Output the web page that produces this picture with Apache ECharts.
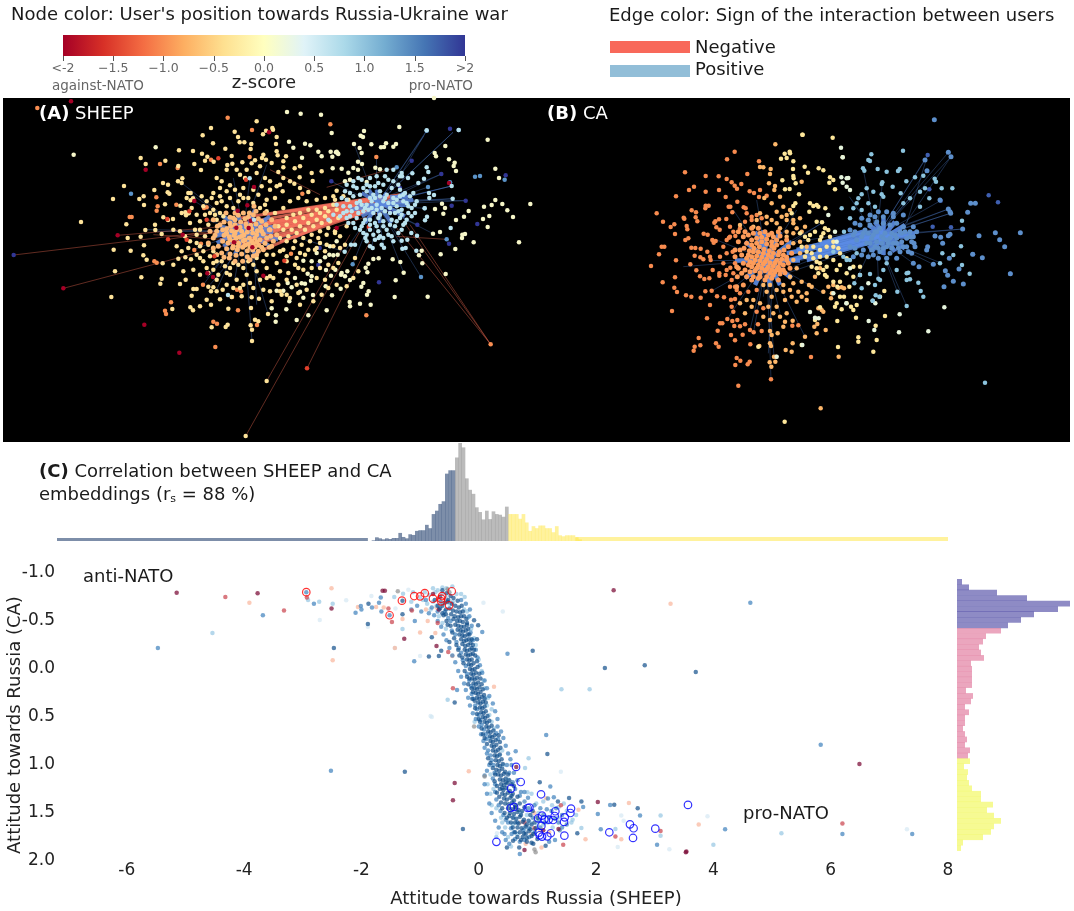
<!DOCTYPE html>
<html><head><meta charset="utf-8"><style>html,body{margin:0;padding:0;background:#fff}#c{width:1074px;height:911px}</style>
<script src="https://cdn.jsdelivr.net/npm/echarts@6/dist/echarts.min.js"></script></head><body><div id="c"></div>
<script>
// ---------- colour scale ----------
const colorbarColors=['#a50026','#d73027','#f46d43','#fdae61','#fee090','#ffffbf','#e0f3f8','#abd9e9','#74add1','#4575b4','#313695'];
// ---------- histogram over SHEEP attitude (heights, arbitrary count units) ----------
const topBinStart=-1.825, topBinWidth=0.0568;
const topBlueHeights=[2,11,8,5,8,6,9,9,24,12,8,20,18,30,32,32,48,38,80,90,110,118,200,210,210];
const topGreyHeights=[248,291,278,186,152,140,100,86,64,90,65,88,80,78,72,102];
const topYellowHeights=[80,80,80,66,80,55,30,44,38,46,46,38,38,26,44,17,14,17,17,17,11,5];
const topWideBlue=[-7.19,-1.89,9];
const topWideYellow=[1.65,8,12];
// ---------- histogram over CA attitude ----------
const rightBinStart=-0.9375, rightBinWidth=0.0566;
const rightBlue=[15,36,120,210,339,303,231,192,153];
const rightPink=[132,87,78,66,72,81,42,45,45,45,45,27,48,42,24,36,24,24,18,24,30,24,39,33];
const rightYellow=[39,21,33,30,36,45,72,72,108,90,111,132,111,102,78,18,12];
// ---------- panel A embedding (arbitrary units) ----------
const aPale=[861,42,902,47,963,50,995,105,867,131,880,149,915,137,931,142,906,179,955,161,965,175,1008,163,1013,166,1092,99,1082,113,1089,117,1198,87,1062,138,1079,150,1114,139,1143,148,1152,147,1158,136,1180,146,1188,138,992,161,997,176,1010,161,1015,168,998,211,1025,212,1085,165,1074,191,1086,198,1074,215,1060,210,1045,224,1035,250,1050,245,1100,252,1126,209,1140,214,1336,144,1304,165,1308,175,1347,184,1364,194,1361,204,1368,219,1463,125,1486,212,1497,240,1591,318,1539,357,1557,433,1421,433,1322,469,1320,402,1299,407,1335,330,1326,317,1305,333,1330,347,1368,366,1392,356,1406,339,1452,326,1475,321,1486,306,1507,318,1522,337,1468,354,1449,363,1463,387,1387,410,1395,408,1386,420,1366,453,1265,458,1257,472,1267,496,1211,524,1201,492,1178,484,1136,481,1120,483,1105,497,1097,509,1102,523,1090,555,1084,566,1187,547,1184,597,1283,596,1337,528,1049,612,1050,625,1080,617,1112,620,1106,580,1101,590,996,592,1022,572,977,565,980,637,925,652,890,666,827,671,828,652,868,610,815,631,859,634,939,591,910,599,900,581,915,557,905,556,933,548,923,527,935,535,885,540,863,555,875,568,850,578,830,578,1025,525,1035,535,1042,520,1050,546,1023,530,1006,515,993,533,978,516,960,490,950,465,988,470,1000,472,1013,470,975,478,1010,430,990,445,935,490,910,488,221,170,467,148,1302,0];
const aYellow=[372,264,339,303,243,372,422,180,437,198,496,188,537,157,579,159,608,112,633,90,639,136,606,167,622,176,676,152,695,174,704,101,714,117,719,133,733,133,754,138,752,153,770,70,789,109,798,98,615,188,641,191,603,216,583,198,535,204,682,201,697,197,727,193,755,196,765,187,790,170,798,185,786,180,547,241,534,250,545,255,489,255,504,260,463,276,503,283,508,287,431,295,418,303,432,321,495,319,565,285,572,285,579,301,572,307,541,323,556,343,566,346,558,352,490,358,504,366,519,363,465,380,379,379,436,396,466,396,485,408,422,416,383,420,341,455,392,458,432,442,430,472,440,485,488,496,520,500,535,482,556,478,573,484,590,470,345,520,424,538,485,542,481,557,540,558,557,545,550,520,580,515,334,597,575,593,590,573,580,573,625,566,640,568,633,580,650,580,668,575,695,597,725,595,755,598,620,605,633,620,660,604,571,628,579,637,600,625,517,633,685,632,753,630,777,602,804,648,765,665,775,670,752,682,756,695,635,688,683,680,677,687,756,729,800,849,737,1014,
817,90,819,95,830,117,828,138,830,160,833,172,858,175,884,211,850,208,835,222,899,238,938,249,883,257,850,240,830,265,848,280,925,282,1010,278,650,240,665,250,690,262,720,230,735,240,770,225,795,240,810,250,640,285,660,295,690,300,720,290,745,300,775,290,800,305,825,300,610,325,640,335,660,345,800,340,825,345,850,330,870,310,895,300,920,310,950,305,975,300,1000,295,600,370,625,380,645,350,835,385,860,380,885,370,910,360,935,350,960,345,985,340,1010,335,590,410,615,415,640,460,840,420,865,415,890,405,915,395,940,385,965,375,990,370,1015,360,600,445,625,440,650,490,675,505,700,495,730,510,760,500,790,490,820,470,850,455,880,450,905,440,930,430,955,420,980,410,1005,405,610,490,640,515,680,525,710,545,740,530,770,520,800,510,830,495,860,490,890,480,915,470,650,545,680,560,720,570,750,555,780,545,810,535,840,520,865,525,895,510,835,560,860,545,890,560,810,580,1005,400,1040,385,1035,440,1020,450,980,440,960,435,945,455,815,610,
560,300,575,330,590,350,605,295,620,310,635,300,650,315,665,310,680,325,700,330,715,310,730,300,760,315,780,330,795,320,545,345,570,375,585,395,600,395,615,350,630,345,650,365,670,355,520,395,540,400,555,415,570,430,590,435,610,460,630,475,650,470,530,445,545,460,565,450,600,480,620,510,640,495,665,490,690,510,715,500,745,490,770,480,800,470,600,530,625,525,655,530,690,530,700,570,730,560,760,570,790,575,820,540,845,590,870,600,895,585,920,575,950,540,975,545,1000,510,660,270,680,280,705,275,730,270,760,275,785,265,810,275,840,260,870,250,900,270,680,215,710,215,740,215,780,205,815,195,850,190,900,205,935,225,965,220,1005,305,1000,320,1030,295,1045,305,975,330,950,335,925,335,900,345,880,350,860,360,850,395,875,395,900,385,925,375,950,365,975,355,860,430,885,430,910,420,935,410,960,400,985,390,900,465,925,455,950,450,975,460,1000,445,1020,415,840,460,860,475,885,500,910,515,935,510,960,510,985,500,1015,495,800,540,840,580,860,590,900,620,940,610,965,590,985,570,1010,560,1040,565,1060,540,1075,520,1065,480];
const aPeach=[700,360,715,352,730,345,745,358,760,350,775,362,690,375,705,380,722,372,738,378,752,382,768,378,782,388,680,392,695,398,710,395,725,400,742,402,758,405,772,398,790,408,672,412,688,416,702,412,718,418,732,410,748,420,765,420,780,425,800,420,668,430,684,435,700,430,716,436,730,428,745,438,760,438,776,442,795,436,680,452,698,450,712,455,728,448,742,458,758,456,775,460,690,468,708,472,725,468,742,476,760,474,660,380,650,400,640,420,655,445,665,465,815,365,825,385,815,445,810,395,640,365,678,345,795,345,762,325,812,415,830,410,
705,345,690,358,672,372,652,385,645,412,630,400,625,435,640,450,668,395,678,408,692,385,705,365,735,362,748,345,768,340,785,370,798,380,808,395,820,430,808,448,790,455,770,470,750,485,728,490,705,490,688,480,672,478,650,470,690,425,708,420,725,415,740,388,755,392,770,410,785,400,705,405,720,388,735,425,755,430,770,432,785,448,700,445,715,445,735,442,750,448,765,448,680,405];
const aOrange=[112,30,683,59,756,96,749,177,633,185,480,198,533,210,495,638,498,648,513,613,389,357,395,357,469,298,473,325,470,338,529,320,463,490,470,494,609,560,696,597,711,575,723,580,771,681,714,637,651,677,640,671,646,747,603,437,620,328,612,330,583,456,1099,652,991,79,1472,739,1129,177,873,467,907,287];
const aRed=[655,181,568,340,620,365,502,363,504,424,560,425,738,245,643,475,921,811,1106,387,853,488];
const aDarkRed=[213,10,437,215,353,412,190,571,433,680,538,764,548,410,583,309,622,526,639,537,790,533,762,267,807,103,713,338,742,322,752,368,746,390,709,389,702,433,757,448,1010,390,1347,255];
const aPaleBlue=[684,591,749,241,762,365,1280,97,1376,96,1280,208,1237,226,1224,240,1206,235,1200,235,1285,222,1272,242,1255,255,1287,285,1302,291,1288,300,1274,331,1281,356,1275,367,1358,302,1355,264,1352,390,1251,413,1234,405,1205,428,1222,425,1217,450,1207,452,1249,458,1065,440,1053,440,1034,461,1096,420,1110,445,1118,450,1136,420,1152,449,
1130,320,1110,300,1150,310,1170,330,1090,340,1120,345,1140,350,1100,320,1160,290,1180,300,1080,310,1070,330,1050,325,1190,325,1210,310,1205,335,1120,290,1140,280,1100,280,1080,290,1060,295,1040,340,1050,355,1070,360,1095,365,1125,375,1150,370,1175,365,1200,360,1220,365,1225,345,1235,330,1245,320,1230,295,1215,285,1200,275,1175,270,1150,260,1125,265,1100,260,1070,270,1050,285,1040,305,1030,325,1060,375,1085,385,1110,395,1135,400,1160,395,1185,385,1210,380,1060,250,1085,245,1155,235,1180,250,1130,235,1110,240,1080,395,1100,410,1125,425,1150,420,1175,415,1195,405,
1115,310,1125,300,1140,295,1155,300,1165,315,1180,315,1190,305,1200,295,1210,290,1220,315,1225,325,1095,330,1105,335,1115,330,1130,335,1145,330,1155,340,1170,345,1185,345,1195,340,1205,350,1075,345,1085,320,1070,315,1055,340,1040,360,1030,345,1020,355,1045,375,1065,390,1090,375,1110,365,1135,360,1150,385,1170,380,1190,370,1205,395,1130,385,1110,380,1090,405,1120,410,1140,415,1165,410,1180,430,1145,440,1100,430,1215,375,1235,355,1245,345,1250,310,1240,285,1195,260,1165,245,1135,255,1110,265,1090,270,1060,265,1035,280,1025,300,1010,320,1000,350,985,365,1040,260,1180,215,1205,225,1160,215,1075,240];
const aMidBlue=[393,287,1280,98,1376,96,1274,331,1340,424,1263,537,1058,499,1440,234,1425,236,1514,245,1350,253,1284,267,1190,208];
const aDarkBlue=[41,471,1350,92,1324,228,1397,308,1517,232,1432,378,1347,437,1355,323,1252,380,1235,188,994,250,959,450,955,501,1137,553,1170,340,1200,270];
const aNegEdges=[1472,739,1210,370,1472,739,1230,380,1472,739,1190,390,921,811,1110,430,737,1014,1080,400,800,849,1050,410,41,471,720,390,190,571,760,420,353,412,740,380,504,424,700,395,548,410,760,400,1340,424,1190,415,1190,208,980,268,810,215,960,290,460,410,750,430,620,365,800,390,1000,390,1150,340];
const aBandEdges=[700,380,1100,310,720,360,1120,300,700,410,1080,330,730,390,1140,320,740,420,1160,310,760,380,1180,305,780,430,1100,340,800,400,1130,330,820,380,1150,300,760,440,1090,345,720,440,1060,345,680,440,1050,340,800,350,1190,295,840,430,1120,335,870,340,1200,290,880,420,1060,340,690,410,1210,310,900,370,1170,320,790,455,1040,350,670,395,1110,320,660,425,1130,325,650,410,1090,315];
const aPosEdges=[1130,320,1359,103,1130,320,1272,113,1130,320,1063,140,1130,320,1129,177,1130,320,1324,228,1130,320,1350,265,1130,320,1397,308,1130,320,1263,537,1130,320,1299,407,1130,320,1251,380,1130,320,1211,524,1130,320,1116,450,1130,320,1058,499,1130,320,1034,461,1130,320,1235,188,1130,320,1280,98,1130,320,994,250,1130,320,1152,449,1130,320,1205,428,1130,320,1285,267,1130,320,1355,264,1130,320,1358,302,1130,320,1274,331,1150,300,1324,228,1160,310,1350,265,1170,305,1397,308,1180,310,1358,302,1160,290,1359,103,1170,285,1280,98,
730,400,545,255,730,400,583,309,730,400,756,729,730,400,805,650,730,400,610,560,730,400,620,540,730,400,650,575,730,400,705,540,730,400,775,530,730,400,735,500,730,400,690,295,730,400,700,240,730,400,750,240,730,400,800,200,730,400,570,285,730,400,620,366,730,400,580,455,730,400,470,400,730,400,440,395,700,430,660,510,760,420,770,620,740,430,630,560,830,400,1034,461,810,430,1080,330,850,420,1100,340];
const aCoreEdges=[650,400,820,400,670,355,810,445,670,445,810,355,705,335,765,470,765,335,705,470,640,415,830,385,660,385,835,425,650,435,800,365,1070,320,1230,320,1085,285,1215,355,1085,355,1215,285,1130,275,1140,375,1105,275,1175,375,1160,285,1095,375,1050,335,1240,305,1170,295,1225,295];
// ---------- panel B embedding (arbitrary units) ----------
const bDeep=[93,498,110,340,129,365,152,381,163,373,168,289,195,217,207,270,222,260,257,228,257,275,321,178,344,155,417,184,156,633,128,547,117,463,125,440,133,440,168,481,165,532,163,563,171,576,198,586,214,590,242,593,270,615,261,655,221,752,224,740,241,736,236,714,288,730,296,740,293,692,300,670,355,857,346,795,350,774,361,782,389,785,383,793,191,353,193,356,200,378,202,388,165,402,196,420,205,415,215,331,228,337,227,352,232,364,251,401,263,404,214,443,226,444,242,446,224,467,211,493,229,511,241,472,250,478,253,537,268,535,240,529,256,574,275,572,291,589,312,592,333,599,345,597,335,620,340,635,322,657,337,663,352,660,307,670,343,678,360,679,375,673,390,690,401,697,425,693,414,673,430,625,410,635,333,705,345,721,368,704,391,733,257,317,266,317,256,325,297,270,317,291,320,237,296,229,335,247,344,257,351,266,364,252,382,222,389,274,402,279,417,291,352,305,326,320,331,320,371,322,377,325,337,337,319,357,297,358,286,364,283,368,289,382,299,389,277,420,281,428,287,423,270,470,272,480,262,455,278,510,298,520,298,527,317,525,331,503,335,540,345,560,350,570,420,270,346,408,330,410,327,413,338,455,345,490,440,287,517,677,535,676,573,771,453,838,
330,380,340,395,320,420,310,440,320,460,300,470,310,490,320,510,340,520,330,560,360,580,385,575,410,570,360,385,375,365,395,360,380,340,395,350,410,345,425,355];
const bCore=[380,430,395,420,410,415,425,412,440,418,455,425,470,420,485,428,372,445,388,452,402,445,418,440,432,448,448,452,462,445,478,455,492,450,365,465,380,475,395,470,410,468,425,472,440,478,455,472,470,480,485,478,500,472,370,490,385,495,400,490,415,495,430,492,445,500,460,498,475,502,490,495,505,490,375,510,390,515,405,512,420,518,435,512,450,520,465,515,480,522,495,518,355,395,375,395,395,385,415,385,435,395,455,400,475,395,395,540,415,535,435,540,455,535,475,540,350,560,370,555,345,450,350,500,352,530,
370,410,385,405,400,400,420,400,445,405,460,410,480,408,500,420,505,440,515,460,500,480,510,505,480,510,460,525,440,530,420,530,400,530,380,530,365,520,355,505,345,470,360,450,355,425,395,435,410,430,425,425,440,432,455,438,470,435,385,465,400,455,415,455,430,460,445,465,460,460,475,465,490,465,390,485,405,480,420,482,435,485,450,488,465,488,480,490,395,500,410,505,425,505,440,508,455,510,470,510,490,510];
const bLight=[466,133,430,202,420,201,452,207,450,222,447,250,465,258,463,270,433,294,360,375,410,360,440,350,470,335,490,320,510,330,420,340,455,310,480,290,400,380,500,360,520,370,540,355,555,380,545,395,520,400,500,410,520,430,540,425,560,440,540,460,520,480,530,505,510,530,490,555,520,550,545,545,535,575,515,590,495,600,470,620,480,650,500,640,455,590,440,575,495,665,518,662,490,680,450,693,455,705,473,700,453,738,555,710,468,770,462,770,449,787,466,785,454,800,497,750,515,755,518,730,450,730,418,738,595,625,605,630,592,672,617,690,590,700,583,680,610,635,560,600,545,590,530,605,560,580,575,560,585,530,600,505,625,560,610,575,640,555,655,563,665,562,672,565,636,580,633,595,656,770,567,555,545,245,602,925,
440,370,455,360,470,370,485,350,500,345,520,360,480,385,500,395,530,385,430,555,450,555,470,570,490,575,510,570,400,600,420,610,445,620,460,640,380,600,395,620,360,610,375,640,430,650,450,660];
const bYellow=[547,104,638,113,494,161,509,155,510,160,483,176,500,174,520,184,554,200,596,205,610,211,519,207,564,218,520,228,521,235,487,241,495,268,509,267,527,250,537,283,526,310,520,318,515,340,580,318,590,315,570,310,595,320,616,325,568,335,606,367,590,365,615,385,625,390,610,400,630,410,600,450,590,485,575,460,555,470,600,490,620,500,640,480,660,460,595,520,615,525,620,530,640,545,660,545,652,560,672,590,650,610,665,628,693,620,700,630,708,653,652,663,710,615,722,592,767,677,795,648,760,755,715,712,715,725,494,965,654,741,415,740,545,735,548,104,645,268,630,232,628,248,640,240,585,660,600,622,645,620,668,172,604,410,640,440,620,470,580,440,565,420,660,495,680,475,700,500,720,500,650,510,680,520,700,530,705,590,688,560,660,590,770,720,793,573,680,610,
540,400,555,410,570,405,585,395,600,420,545,440,560,455,580,475,600,470,620,440,640,425,655,445,590,505,575,500,610,510];
const bPale=[663,143,668,172,664,232,668,248,680,235,685,234,680,260,690,270,547,735,470,770,585,653,596,655,570,636,746,663,763,690,837,697,925,694,973,622,839,643,679,610,640,580,625,345,645,395,650,425,690,505,720,525,745,550,780,590,766,610,758,602];
const bLightBlue=[754,163,849,152,745,180,750,183,729,205,733,212,773,207,800,215,839,207,834,213,859,244,885,232,910,227,944,236,948,245,965,265,997,265,787,247,785,252,740,265,725,283,760,275,785,283,715,295,710,310,700,325,725,330,745,310,765,320,790,290,818,260,842,280,850,310,870,295,900,275,915,265,928,295,900,320,1026,362,967,460,1023,439,832,575,860,618,775,536,780,540,765,555,725,565,778,590,767,586,758,602,895,548,902,573,910,590,860,520,865,518,870,538,860,540,830,510,790,510,800,490,750,522,720,525,703,550,680,480,690,480,710,460,670,470,640,455,665,325,690,355,672,395,1095,848,1049,521,1026,495,1000,465,960,490];
const bMid=[943,59,985,157,993,170,915,180,921,212,960,300,985,327,990,335,992,340,1028,387,945,408,962,412,968,430,990,403,985,407,1043,337,1052,310,1066,310,1077,407,988,475,1017,507,976,512,983,526,1000,544,1030,552,972,560,1058,463,1087,473,1126,398,1139,419,1154,440,1171,521,1201,398,940,493,897,500,923,440,920,450,880,490,882,430,875,460,765,395,780,385,795,400,810,415,825,405,840,395,755,415,770,425,785,430,800,440,815,445,830,430,845,425,860,415,740,430,725,410,735,390,750,375,770,365,790,370,810,375,830,370,850,380,870,395,880,410,860,440,840,455,810,460,780,455,755,450,730,450,710,420,705,395,720,375,745,360,765,350,790,350,820,350,850,345,
770,395,785,410,800,420,760,405,745,400,730,400,750,430,765,440,790,415,815,400,830,415,845,400,855,395,870,410,875,425,885,440,865,455,850,440,835,445,820,430,805,430,790,445,775,445,760,465,745,470,725,465,705,445,690,440,700,470,775,475,800,475,830,475,820,340,800,335,775,335,750,345,725,355,705,370,690,390,700,405,880,380,890,395];
const bDark=[923,165,1106,286,1134,307,962,302,928,268,945,408,1059,463,1171,521,993,382,938,380];
const bPosEdges=[770,410,923,165,770,410,915,180,770,410,993,170,770,410,985,157,770,410,729,205,770,410,688,290,770,410,962,302,770,410,985,327,770,410,992,340,770,410,1028,387,770,410,940,493,770,410,860,618,770,410,832,575,770,410,703,550,770,410,775,540,770,410,880,490,770,410,960,488,770,410,787,250,770,410,870,295,770,410,921,212,840,380,985,327,840,390,990,340,850,400,1028,387,850,380,993,170,860,370,923,165,
440,480,453,838,440,480,462,770,440,480,555,710,440,480,530,330,440,480,410,300,440,480,340,330,440,480,290,420,440,480,275,480,440,480,345,560,440,480,322,657,440,480,390,690,440,480,430,590,440,480,610,580,440,480,610,365,440,480,190,500,460,500,445,760,440,480,280,570,440,480,480,640,440,480,400,700,500,430,605,370,470,470,770,400,470,500,790,420,440,440,750,390,500,520,730,440,520,470,800,410,560,470,720,410,520,500,700,430,540,440,740,400];
const bCoreEdges=[345,480,540,480,375,425,515,535,375,535,515,425,430,390,450,560,405,395,480,555,480,395,405,555,500,460,790,405,510,480,770,420,530,450,760,395,560,480,740,430,600,430,730,395,590,455,720,420,725,410,875,410,745,375,855,445,745,445,855,375,790,355,790,465,765,365,825,455,825,365,755,455,705,420,885,400];
// ---------- main scatter: attitude (SHEEP, CA) ----------
const mDark=[-.62,-.82,-.55,-.79,-.48,-.76,-.43,-.74,-.36,-.71,-.52,-.72,-.58,-.69,-.46,-.68,-.4,-.66,-.34,-.64,-.29,-.66,-.5,-.63,-.44,-.61,-.38,-.6,-.32,-.59,-.27,-.6,-.47,-.57,-.41,-.55,-.35,-.54,-.3,-.55,-.25,-.55,-.43,-.52,-.37,-.5,-.32,-.5,-.27,-.49,-.21,-.52,-.4,-.46,-.35,-.45,-.3,-.44,-.25,-.44,-.2,-.46,-.36,-.41,-.31,-.4,-.27,-.39,-.22,-.4,-.33,-.36,-.28,-.35,-.24,-.34,-.19,-.36,-.3,-.31,-.25,-.29,-.21,-.3,-.17,-.31,-.28,-.26,-.23,-.24,-.18,-.25,-.14,-.27,-.24,-.2,-.2,-.19,-.15,-.2,-.12,-.22,-.22,-.15,-.18,-.14,-.14,-.15,-.1,-.16,-.2,-.1,-.16,-.09,-.12,-.1,-.17,-.05,-.13,-.04,-.09,-.06,-.15,0,-.11,.01,-.07,0,-.13,.05,-.09,.06,-.05,.04,-.11,.1,-.07,.11,-.03,.09,-.09,.15,-.05,.16,-.01,.14,-.07,.2,-.03,.21,.01,.19,-.05,.25,-.01,.26,.03,.24,-.03,.3,.01,.31,.05,.29,-.01,.35,.03,.36,.07,.34,.02,.4,.06,.41,.1,.39,.04,.45,.08,.46,.12,.44,.07,.5,.11,.51,.15,.49,.1,.55,.14,.56,.18,.54,.13,.6,.17,.61,.22,.59,.16,.65,.2,.66,.25,.64,.19,.7,.23,.71,.27,.69,.2,.75,.24,.76,.29,.74,.22,.8,.26,.81,.3,.79,.24,.85,.29,.86,.33,.84,.27,.9,.31,.91,.36,.89,.29,.95,.34,.96,.39,.94,.32,1,.36,1.01,.41,.99,.3,1.05,.35,1.06,.4,1.04,.45,1.07,.33,1.1,.38,1.11,.43,1.09,.36,1.15,.41,1.16,.46,1.14,.38,1.2,.43,1.21,.49,1.19,.36,1.25,.42,1.26,.47,1.24,.53,1.27,.4,1.3,.45,1.31,.5,1.29,.56,1.32,.43,1.35,.48,1.36,.54,1.34,.6,1.37,.45,1.4,.51,1.41,.57,1.39,.63,1.42,.5,1.45,.56,1.46,.62,1.44,.68,1.47,.53,1.5,.6,1.51,.66,1.49,.72,1.52,.58,1.55,.64,1.56,.7,1.54,.77,1.57,.62,1.6,.68,1.61,.75,1.59,.82,1.62,.66,1.65,.73,1.66,.8,1.64,.88,1.67,.7,1.7,.77,1.71,.85,1.69,.93,1.72,.75,1.75,.82,1.76,.9,1.74,1,1.77,.82,1.8,.9,1.81,.48,1.86,
-1.88,-.68,-1.89,-.47,-2.47,-.22,-1.3,-.71,-1.3,-.57,-.85,-.13,-.68,-.135,-.64,-.19,-.8,-.33,-.5,-.28,-.08,-.507,-.01,-.455,-.03,-.31,-.41,.35,1.17,.885,-.27,1.666,1.04,1.18,1.35,1.38,1.54,1.343,1.75,1.38,2.31,1.413,2.71,1.45,1.68,1.711,.69,1.86,1.14,1.84,.93,1.82,.585,1.79,2.83,-.04,3.7,.03,2.15,-.01,.92,-.19,-1.26,1.07,-.53,-.7,-.6,-.56,-.55,-.5,-.56,-.62,-.62,-.66,-.66,-.75,
-.75,-.72,-.7,-.66,-.66,-.63,-.62,-.58,-.56,-.57,-.53,-.46,-.48,-.45,-.45,-.38,-.42,-.32,-.38,-.25,-.35,-.2,-.33,-.14,-.28,-.12,-.26,-.06,-.24,.02,-.2,.08,-.16,.1,-.18,.16,-.12,.2,-.1,.24,-.11,.31,-.07,.33,-.06,.41,-.03,.47,0,.52,.02,.55,.05,.62,.07,.68,.1,.72,.14,.78,.34,.69,.36,.76,.37,.82,.16,.93,.2,.98,.24,1.03,.28,1.1,.27,1.17,.31,1.22,.31,1.29,.35,1.33,.38,1.39,.4,1.45,.44,1.5,.48,1.55,.52,1.53,.55,1.6,.58,1.65,.62,1.7,.66,1.75,.72,1.78,.8,1.72,.85,1.58,.9,1.62,.95,1.6,1,1.55,.97,1.66,.92,1.48,.88,1.52,.7,1.4,.74,1.48,.78,1.44,.66,1.33,.6,1.22,.58,1.3,.52,1.16,.5,1.1,.56,1.2,.46,1.18,.4,1.24,-.2,-.48,-.18,-.42,-.16,-.36,-.12,-.31,-.1,-.25,-.08,-.2,-.06,-.14,-.03,-.08,-.02,-.02,.01,.05,.03,.1,.05,.16,.07,.21,.09,.27,.1,.31,.12,.35];
const mMid=[-3.68,-.56,-5.47,-.22,-2.94,-.8,-2.81,-.68,-2.1,-.587,-2.01,-.656,-2,-.62,-1.82,-.64,-1.7,-.69,-1.67,-.746,-1.66,-.6,-1.52,-.56,-1.09,-.5,-1.1,-.08,-.37,.22,.06,-.385,.49,-.16,1.15,.687,.1,1.11,.63,.857,1.22,1.225,1.28,1.336,1.78,1.437,2.03,1.51,2.24,1.416,2.75,1.527,4.2,1.67,3.04,1.83,2.08,1.67,.7,1.927,.44,1.72,.52,1.82,4.63,-.69,5.83,.79,-2.52,1.06,6.2,1.72,7.39,1.72,
-.7,-.6,-.65,-.7,-.58,-.6,-.52,-.53,-.48,-.5,-.46,-.4,-.4,-.36,-.38,-.28,-.34,-.22,-.3,-.17,-.27,-.09,-.22,-.03,-.2,.05,-.16,.12,-.13,.18,-.12,.26,-.09,.31,-.06,.38,-.03,.42,0,.48,.03,.53,.05,.58,.09,.63,.12,.68,.13,.73,.32,.6,.3,.67,.33,.73,.16,.85,.2,.9,.22,.95,.25,1,.27,1.08,.24,1.14,.28,1.2,.28,1.28,.3,1.36,.34,1.42,.37,1.48,.42,1.52,.46,1.57,.5,1.6,.55,1.66,.6,1.7,.62,1.77,.7,1.8,.78,1.78,.86,1.75,.96,1.7,1.05,1.65,1.12,1.6,1.2,1.55,.85,1.45,.95,1.42,1.05,1.45,.78,1.38,.7,1.32,.62,1.25,.58,1.18,.52,1.08,.48,1,.78,1.28,1.18,1.35,1.32,1.45,1.42,1.52,1.5,1.62,1.38,1.68,1.3,1.78,1.2,1.8,
-1.15,-.62,-1.05,-.66,-.98,-.6,-.9,-.72,-.85,-.58,-.8,-.64,-.76,-.56,-.7,-.5,-.64,-.44,-.6,-.36,-.55,-.3,-.5,-.22,-.45,-.14,-.4,-.07,-.35,.02,-.3,.08,-.25,.15,-.22,.22,-.18,.3,-.15,.38,-.1,.46,-.05,.52,0,.6,.04,.68,.08,.75,.1,.82,.14,.88,.18,1,.14,1.06,.1,1.2,.14,1.3,.18,1.4,.22,1.5,.28,1.58,.34,1.65,.4,1.7,.46,1.78,.56,1.72,.66,1.6,.76,1.68,.86,1.66,.92,1.55,1.02,1.58,1.1,1.52,1.16,1.46,1.24,1.48,1.3,1.56,1.36,1.6,1.42,1.65,.84,1.34,.72,1.28,.66,1.16,.6,1.08,.56,1,.54,.94,.5,.88,.46,.8,.42,.72,.38,.65,.32,.52,.28,.44,.24,.36,.18,.28,.14,.2,.1,.12,.06,.04,.02,-.04,-.02,-.12,-.05,-.2,-.1,-.3,-.14,-.38,-.12,-.45,-.16,-.55,-.15,-.62,-.22,-.68,-.3,-.72];
const mLight=[-4.54,-.375,-2.91,-.72,-2.72,-.7,-2.49,-.68,-1.44,-.75,-1.29,-.785,-1.3,-.417,-.74,-.8,-.45,-.86,-.55,-.84,-.3,-.78,-.95,-.72,-.88,-.68,-.82,-.62,-.78,-.7,-.72,-.66,-.68,-.55,-.62,-.48,-.56,-.42,-.53,.32,.85,.93,.79,1.03,.83,1.285,1.45,1.4,1.6,1.57,1.75,1.656,2.33,1.666,3.1,1.527,3.1,1.736,1.89,.21,1.41,.21,5.16,1.71,4,1.83,.22,.42,.16,.3,-.07,.55,.18,.72,.4,.85,.15,1.2,.2,1.3,.22,1.42,.9,1.3,.98,1.4,1.1,1.38,1.25,1.42,1.35,1.55,.4,1.6,.5,1.75,.6,1.55,.72,1.5,.88,1.6,1,1.62,.3,1.75,.55,1.85,-1.0,-.75,-1.12,-.8,-1.15,-.7,
-.92,-.8,-.85,-.77,-.78,-.84,-.7,-.82,-.62,-.85,-.62,-.78,-.56,-.74,-.5,-.68,-.44,-.7,-.38,-.78,-.24,-.75,-.25,-.62,-.2,-.6,-.18,-.54,-.13,-.42,-.08,-.32,-.05,-.25,0,-.1,.05,.02,.08,.12,.1,.2,.12,.3,.14,.38,.18,.48,.22,.55,.26,.62,.35,.9,.42,1,.5,1.15,.2,1.1,.25,1.25,.3,1.45,.38,1.55,.45,1.65,.58,1.62,.66,1.72,.78,1.66,.82,1.52,.92,1.7,1.02,1.5,1.1,1.62,1.18,1.6,1.26,1.65,1.36,1.44,1.5,1.48,1.58,1.6,1.66,1.52];
const mPale=[-2.71,-.51,-2.26,-.715,-1.83,-.76,-1.42,-.63,-1.2,-.826,-1.0,-.135,-.8,.5,-.82,.49,-1.89,-.44,.41,-.6,.08,-.69,1.4,1.07,2.43,1.527,2.47,1.58,3.9,1.534,3.25,1.878,2.37,1.854,7.3,1.67,.31,1.71,-1.43,-.22];
const mSalmon=[-3.91,-.69,-2.51,-.84,-2.49,-.09,-2.06,-.646,-1.75,-.645,-1.62,-.64,-1.3,-.52,-1.43,-.22,-1,-.38,-.87,-.5,-.74,-.375,-.45,-.135,.26,.185,-.17,1.065,1.15,1.347,1.7,1.465,2.56,1.395,3.75,1.62,2.43,1.774,1.82,1.774,1.07,1.86,3.27,-.68,.7,1.6,.9,1.72,.95,1.5,1.05,1.68,1.2,1.7,.8,1.82,-.9,-.62,-.72,-.64];
const mRed=[-4.32,-.75,-3.32,-.61,-2.93,-.745,-1.54,-.63,-1.14,-.61,-1.48,-.49,-.7,-.48,-.52,-.177,-.44,.2,1.4,1.42,3.1,1.687,2.33,1.746,1.44,1.83,6.2,1.61,.95,1.66,.78,1.6];
const mDarkRed=[-5.15,-.795,-3.77,-.79,-2.51,-.63,-1.64,-.816,-1.6,-.816,-1.27,-.316,-.72,-.24,-.41,1.187,-.44,1.368,2.03,1.385,3.53,1.91,1.36,1.666,.78,1.885,2.3,-.82,6.49,.99,3.54,1.9,.64,1.02,-.78,-.78,-.68,-.62,1.1,1.68];
const mGrey=[-1.38,-.81,-.53,-.83,-.5,-.8,.97,1.91,.95,1.88,-.08,.6,.1,1.12,.62,1.45];
const mRedCircles=[-2.94,-.8,-1.52,-.56,-1.31,-.712,-1.1,-.76,-1,-.757,-.92,-.79,-.78,-.733,-.625,-.76,-.64,-.733,-.64,-.705,-.505,-.663,-.46,-.81];
const mBlueCircles=[.636,1.02,.716,1.177,.551,1.246,1.062,1.305,.546,1.448,.602,1.437,.835,1.448,.864,1.444,1.573,1.454,1.306,1.482,1.562,1.5,1.295,1.531,1.079,1.527,1.011,1.555,1.119,1.566,1.193,1.569,1.267,1.573,1.466,1.545,1.454,1.593,1.068,1.635,1.022,1.704,1.04,1.732,1.079,1.746,1.17,1.743,1.227,1.711,1.46,1.736,.301,1.8,2.226,1.701,2.578,1.618,2.64,1.659,2.63,1.76,3.01,1.663,3.567,1.416];
// ---------- text ----------
const colorbarTicks=[-2,-1.5,-1,-.5,0,.5,1,1.5,2];
const xTicks=[-6,-4,-2,0,2,4,6,8];

const FONT='DejaVu Sans';
const pairs=a=>{const r=[];for(let i=0;i<a.length;i+=2)r.push([a[i],a[i+1]]);return r};
const segs=a=>{const r=[];for(let i=0;i<a.length;i+=4)r.push({coords:[[a[i],a[i+1]],[a[i+2],a[i+3]]]});return r};
const dots=(arr,color,ax,size,op)=>({type:'scatter',data:pairs(arr),xAxisIndex:ax,yAxisIndex:ax,symbolSize:size,silent:true,itemStyle:{color,opacity:op==null?1:op}});
const rings=(arr,color)=>({type:'scatter',data:pairs(arr),xAxisIndex:3,yAxisIndex:3,symbolSize:7.5,silent:true,z:6,itemStyle:{color:'transparent',borderColor:color,borderWidth:1.2}});
const edges=(arr,color,ax,w,op)=>({type:'lines',coordinateSystem:'cartesian2d',polyline:false,xAxisIndex:ax,yAxisIndex:ax,data:segs(arr),silent:true,z:1,lineStyle:{color,width:w,opacity:op,curveness:0}});
const bars=(rows,color,ax,z)=>({type:'custom',xAxisIndex:ax,yAxisIndex:ax,data:rows,silent:true,z:z||2,renderItem:(p,api)=>{const a=api.coord([api.value(0),0]),b=api.coord([api.value(1),api.value(2)]);return{type:'rect',shape:{x:a[0],y:b[1],width:b[0]-a[0],height:a[1]-b[1]},style:{fill:color}}}});
const hbars=(rows,color)=>({type:'custom',xAxisIndex:5,yAxisIndex:5,data:rows,silent:true,renderItem:(p,api)=>{const a=api.coord([0,api.value(0)]),b=api.coord([api.value(2),api.value(1)]);return{type:'rect',shape:{x:a[0],y:a[1],width:b[0]-a[0],height:b[1]-a[1]},style:{fill:color}}}});
const topRows=(h,first)=>h.map((v,i)=>[topBinStart+(first+i)*topBinWidth,topBinStart+(first+i+1)*topBinWidth+.006,v]);
const rightRows=(h,first)=>h.map((v,i)=>[rightBinStart+(first+i)*rightBinWidth,rightBinStart+(first+i+1)*rightBinWidth+.003,v]);
const hidden=(min,max,inv)=>({type:'value',min,max,inverse:!!inv,show:false,splitLine:{show:false}});
const txt=(x,y,text,size,fill,extra)=>({type:'text',x,y,silent:true,style:Object.assign({text,fontSize:size,fontFamily:FONT,fill,verticalAlign:'middle',align:'left'},extra||{})});

const chart=echarts.init(document.getElementById('c'),null,{renderer:'canvas'});
chart.setOption({
 animation:false,backgroundColor:'#fff',
 textStyle:{fontFamily:FONT},
 grid:[
  {left:63,top:35,width:402,height:21,containLabel:false},
  {left:3,top:98,width:533,height:344,show:true,backgroundColor:'#000',borderWidth:0},
  {left:536,top:98,width:534,height:344,show:true,backgroundColor:'#000',borderWidth:0},
  {left:57,top:573,width:891,height:288},
  {left:57,top:443,width:891,height:98},
  {left:957,top:573,width:113,height:288}
 ],
 xAxis:[
  {type:'value',gridIndex:0,min:-2,max:2,interval:.5,splitLine:{show:false},axisLine:{show:false},axisTick:{show:true,length:5,lineStyle:{color:'#555'}},axisLabel:{margin:6,fontSize:12.5,color:'#666',fontFamily:FONT,showMinLabel:true,showMaxLabel:true,hideOverlap:false,formatter:v=>v===-2?'<-2':v===2?'>2':v===0?'0.0':(v<0?'\u2212':'')+Math.abs(v).toFixed(1)}},
  Object.assign(hidden(9,1608),{gridIndex:1}),
  Object.assign(hidden(-252,1350),{gridIndex:2}),
  {type:'value',gridIndex:3,min:-7.19,max:8,splitLine:{show:false},axisLine:{show:false},axisTick:{show:false},axisLabel:{margin:1,fontSize:17,color:'#222',fontFamily:FONT,customValues:xTicks,formatter:v=>String(v)}},
  Object.assign(hidden(-7.19,8),{gridIndex:4}),
  Object.assign(hidden(0,339),{gridIndex:5})
 ],
 yAxis:[
  Object.assign(hidden(0,1),{gridIndex:0}),
  Object.assign(hidden(0,1032,true),{gridIndex:1}),
  Object.assign(hidden(-6,1026,true),{gridIndex:2}),
  {type:'value',gridIndex:3,min:-1,max:2,interval:.5,inverse:true,splitLine:{show:false},axisLine:{show:false},axisTick:{show:false},axisLabel:{margin:2,fontSize:17,color:'#222',fontFamily:FONT,formatter:v=>v.toFixed(1)}},
  Object.assign(hidden(0,291),{gridIndex:4}),
  Object.assign(hidden(-1,2,true),{gridIndex:5})
 ],
 series:[
  {type:'custom',xAxisIndex:0,yAxisIndex:0,data:[[-2,2]],silent:true,renderItem:(p,api)=>{const a=api.coord([-2,1]),b=api.coord([2,0]);return{type:'rect',shape:{x:a[0],y:a[1],width:b[0]-a[0],height:b[1]-a[1]},style:{fill:new echarts.graphic.LinearGradient(0,0,1,0,colorbarColors.map((c,i)=>({offset:i/10,color:c})))}}}},
  // panel A
  edges(aPosEdges,'#4f7fd0',1,1,.33),
  edges(aNegEdges,'#e8664f',1,1,.42),
  edges(aBandEdges,'#f4705c',1,3,.8),
  edges(aCoreEdges,'#5b86dc',1,4,.85),
  dots(aDarkBlue,'#313695',1,4.5),dots(aMidBlue,'#5b93c8',1,4.5),
  dots(aPale,'#f6f6c8',1,4.5),dots(aOrange,'#f98e52',1,4.5),dots(aYellow,'#fee39a',1,4.5),dots(aPeach,'#fdb977',1,5),dots(aRed,'#e0402c',1,4.5),dots(aDarkRed,'#a50026',1,4.5),dots(aPaleBlue,'#b9e2ee',1,4.5),
  // panel B
  edges(bPosEdges,'#4f7fd0',2,1,.33),
  edges(bCoreEdges,'#5b8ce6',2,4.5,.9),
  dots(bDark,'#3f5fb0',2,4.5),dots(bDeep,'#f88b4f',2,4.5),dots(bLight,'#fdb76a',2,4.5),dots(bYellow,'#fee79a',2,4.5),dots(bPale,'#e6f4dc',2,4.5),dots(bCore,'#fd9c5a',2,5),dots(bLightBlue,'#8cc4de',2,4.5),dots(bMid,'#5d8fcb',2,5),
  // top histogram
  bars(topRows(topBlueHeights,0),'rgba(39,66,112,.6)',4),bars([topWideBlue],'rgba(39,66,112,.6)',4),
  bars(topRows(topGreyHeights,25),'rgba(120,120,120,.5)',4),
  bars(topRows(topYellowHeights,41),'rgba(255,230,60,.5)',4),bars([topWideYellow],'rgba(255,230,60,.5)',4),
  // right histogram
  hbars(rightRows(rightBlue,0),'rgba(50,44,150,.55)'),
  hbars(rightRows(rightPink,9),'rgba(214,70,120,.48)'),
  hbars(rightRows(rightYellow,33),'rgba(238,245,40,.5)'),
  // main scatter
  dots(mPale,'#cfe4f2',3,4.5,.6),dots(mSalmon,'#f9a98a',3,4.5,.6),dots(mLight,'#8ec2e0',3,4.5,.65),dots(mMid,'#3d80bc',3,4.5,.7),dots(mGrey,'#8f8f8f',3,4.5,.7),dots(mRed,'#c9404a',3,4.5,.7),dots(mDarkRed,'#7a0a35',3,4.5,.72),dots(mDark,'#0b4a88',3,4.5,.68),
  rings(mRedCircles,'#ff0000'),rings(mBlueCircles,'#0000ff')
 ],
 graphic:[
  txt(11,15,"Node color: User's position towards Russia-Ukraine war",18,'#1a1a1a'),
  txt(609,16,'Edge color: Sign of the interaction between users',18,'#1a1a1a'),
  {type:'rect',silent:true,shape:{x:610,y:41,width:80,height:12},style:{fill:'#f8685a'}},
  {type:'rect',silent:true,shape:{x:610,y:65,width:80,height:12},style:{fill:'#92bed8'}},
  txt(695,48,'Negative',18,'#1a1a1a'),txt(695,70,'Positive',18,'#1a1a1a'),
  txt(52,86,'against-NATO',13.5,'#666'),txt(473,86,'pro-NATO',13.5,'#666',{align:'right'}),
  txt(264,83,'z-score',18,'#222',{align:'center'}),
  txt(39,114,'{b|(A)} SHEEP',18,'#fff',{rich:{b:{fontWeight:'bold',fontSize:18,fill:'#fff',fontFamily:FONT}}}),
  txt(547,114,'{b|(B)} CA',18,'#fff',{rich:{b:{fontWeight:'bold',fontSize:18,fill:'#fff',fontFamily:FONT}}}),
  txt(39,472,'{b|(C)} Correlation between SHEEP and CA',18,'#1a1a1a',{rich:{b:{fontWeight:'bold',fontSize:18,fill:'#1a1a1a',fontFamily:FONT}}}),
  txt(39,495,'embeddings (r{s|s} = 88 %)',18,'#1a1a1a',{rich:{s:{fontSize:11,fill:'#1a1a1a',fontFamily:FONT,padding:[9,0,0,0]}}}),
  txt(83,577,'anti-NATO',18,'#1a1a1a'),txt(743,814,'pro-NATO',18,'#1a1a1a'),
  txt(536,899,'Attitude towards Russia (SHEEP)',18,'#222',{align:'center'}),
  {type:'text',x:15,y:725,rotation:Math.PI/2,silent:true,style:{text:'Attitude towards Russia (CA)',fontSize:18,fontFamily:FONT,fill:'#222',align:'center',verticalAlign:'middle'}}
 ]
});
</script></body></html>
